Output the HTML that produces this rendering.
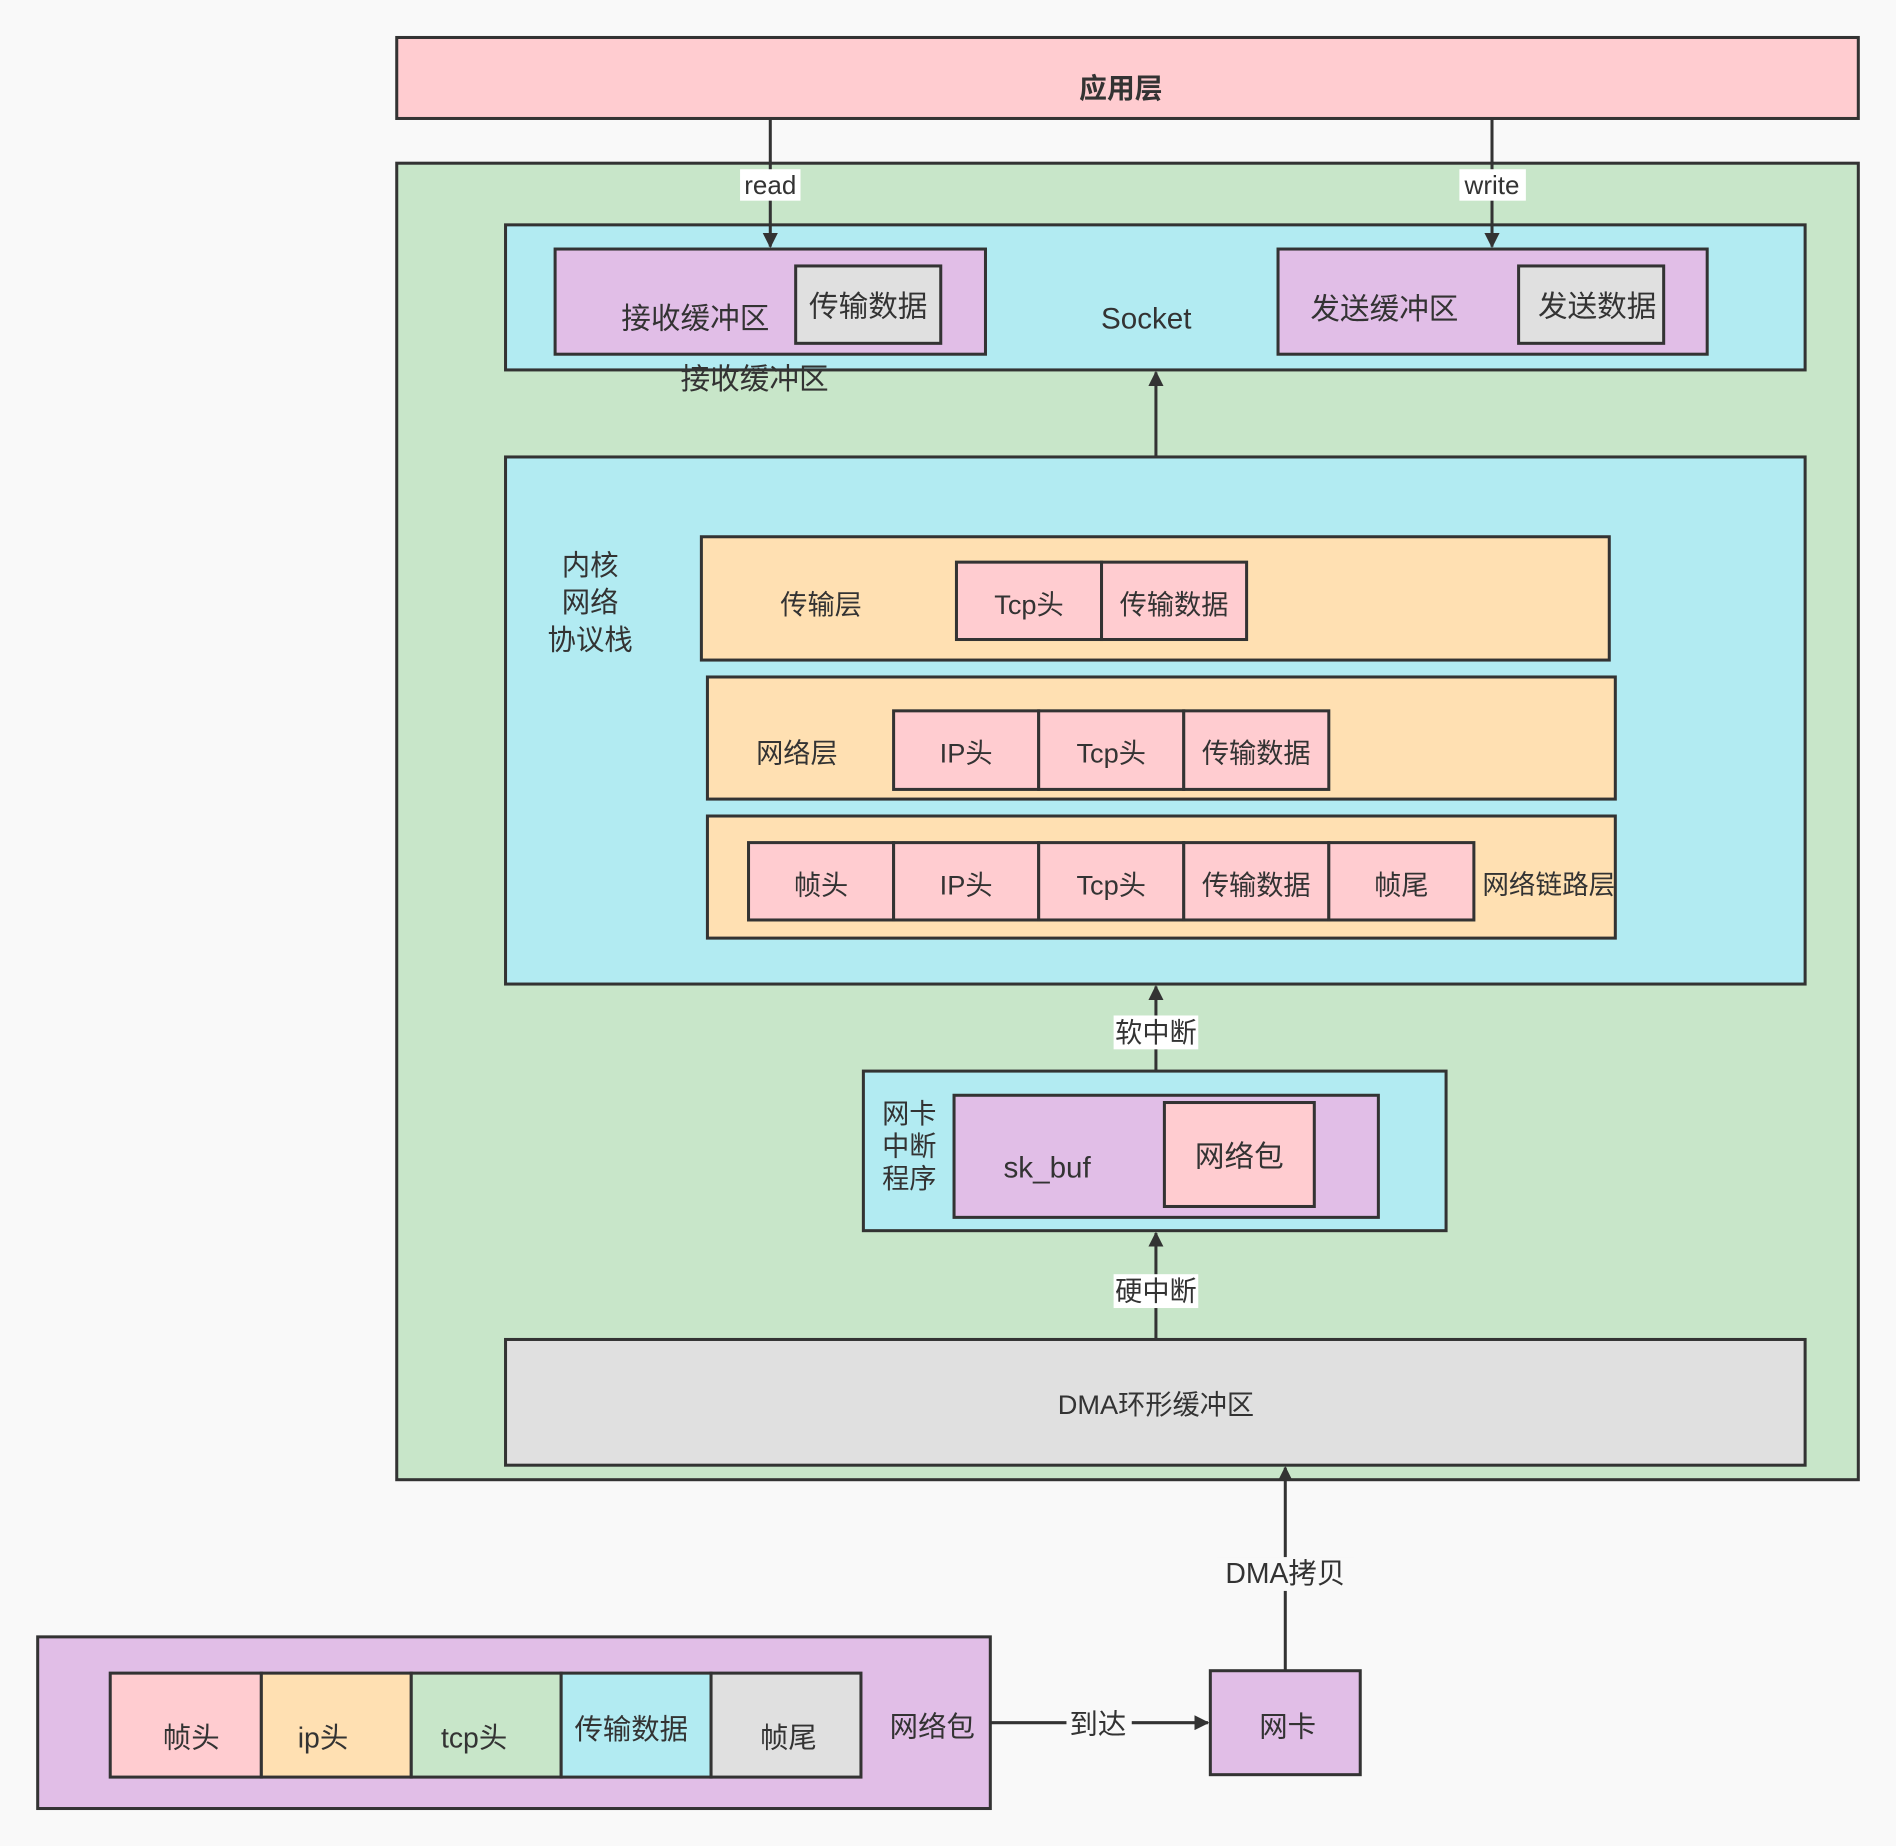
<!DOCTYPE html>
<html><head><meta charset="utf-8"><style>
html,body{margin:0;padding:0;background:#f9f9f9}
svg{display:block}
text{font-family:"Liberation Sans","Noto Sans CJK SC",sans-serif;fill:#333;text-anchor:middle;dominant-baseline:central}
rect{stroke:#333;stroke-width:2.5}
.l{stroke:#333;stroke-width:2.5;fill:none}
</style></head><body>
<svg width="1896" height="1846" viewBox="0 0 1568 1527" xmlns="http://www.w3.org/2000/svg">
<defs><marker id="a" viewBox="0 0 10 10" refX="9" refY="5" markerWidth="5" markerHeight="5" orient="auto"><path d="M0,0L10,5L0,10z" fill="#333"/></marker></defs>
<rect x="0" y="0" width="1568" height="1527" fill="#f9f9f9" style="stroke:none"/>
<rect x="328" y="31" width="1209" height="67" fill="#ffccd0"/>
<text x="927" y="73" font-size="23" font-weight="bold">应用层</text>
<rect x="328" y="135" width="1209" height="1089" fill="#c8e6c9"/>
<rect x="418" y="186" width="1075" height="120" fill="#b2ebf2"/>
<text x="948" y="264" font-size="24.5">Socket</text>
<rect x="459" y="206" width="356" height="87" fill="#e1bee7"/>
<text x="575" y="264" font-size="24.5">接收缓冲区</text>
<rect x="658" y="220" width="120" height="64" fill="#e0e0e0"/>
<text x="718" y="254" font-size="24.5">传输数据</text>
<rect x="1057" y="206" width="355" height="87" fill="#e1bee7"/>
<text x="1145" y="256" font-size="24.5">发送缓冲区</text>
<rect x="1256" y="220" width="120" height="64" fill="#e0e0e0"/>
<text x="1321" y="254" font-size="24.5">发送数据</text>
<text x="624" y="314" font-size="24.5">接收缓冲区</text>
<path class="l" d="M637,98V204" marker-end="url(#a)"/>
<rect x="612" y="140" width="50" height="26" fill="#fff" style="stroke:none"/>
<text x="637" y="153" font-size="21.5">read</text>
<path class="l" d="M1234,98V204" marker-end="url(#a)"/>
<rect x="1207" y="140" width="55" height="26" fill="#fff" style="stroke:none"/>
<text x="1234" y="153" font-size="21.5">write</text>
<path class="l" d="M956,378V308" marker-end="url(#a)"/>
<rect x="418" y="378" width="1075" height="436" fill="#b2ebf2"/>
<text x="488" y="468" font-size="23.5">内核</text>
<text x="488" y="499" font-size="23.5">网络</text>
<text x="488" y="530" font-size="23.5">协议栈</text>
<rect x="580" y="444" width="751" height="102" fill="#ffe0b2"/>
<text x="679" y="500" font-size="22.5">传输层</text>
<rect x="791" y="465" width="120" height="64" fill="#ffccd0"/><text x="851" y="500" font-size="22.5">Tcp头</text>
<rect x="911" y="465" width="120" height="64" fill="#ffccd0"/><text x="971" y="500" font-size="22.5">传输数据</text>
<rect x="585" y="560" width="751" height="101" fill="#ffe0b2"/>
<text x="659" y="623" font-size="22.5">网络层</text>
<rect x="739" y="588" width="120" height="65" fill="#ffccd0"/><text x="799" y="623" font-size="22.5">IP头</text>
<rect x="859" y="588" width="120" height="65" fill="#ffccd0"/><text x="919" y="623" font-size="22.5">Tcp头</text>
<rect x="979" y="588" width="120" height="65" fill="#ffccd0"/><text x="1039" y="623" font-size="22.5">传输数据</text>
<rect x="585" y="675" width="751" height="101" fill="#ffe0b2"/>
<rect x="619" y="697" width="120" height="64" fill="#ffccd0"/><text x="679" y="732" font-size="22.5">帧头</text>
<rect x="739" y="697" width="120" height="64" fill="#ffccd0"/><text x="799" y="732" font-size="22.5">IP头</text>
<rect x="859" y="697" width="120" height="64" fill="#ffccd0"/><text x="919" y="732" font-size="22.5">Tcp头</text>
<rect x="979" y="697" width="120" height="64" fill="#ffccd0"/><text x="1039" y="732" font-size="22.5">传输数据</text>
<rect x="1099" y="697" width="120" height="64" fill="#ffccd0"/><text x="1159" y="732" font-size="22.5">帧尾</text>
<text x="1281" y="732" font-size="22">网络链路层</text>
<path class="l" d="M956,886V816" marker-end="url(#a)"/>
<rect x="921" y="840" width="70" height="28" fill="#fff" style="stroke:none"/>
<text x="956" y="854" font-size="22.5">软中断</text>
<rect x="714" y="886" width="482" height="132" fill="#b2ebf2"/>
<text x="752" y="921" font-size="22.5">网卡</text>
<text x="752" y="948" font-size="22.5">中断</text>
<text x="752" y="975" font-size="22.5">程序</text>
<rect x="789" y="906" width="351" height="101" fill="#e1bee7"/>
<text x="866" y="966" font-size="24.5">sk_buf</text>
<rect x="963" y="912" width="124" height="86" fill="#ffccd0"/>
<text x="1025" y="957" font-size="24.5">网络包</text>
<path class="l" d="M956,1108V1020" marker-end="url(#a)"/>
<rect x="921" y="1054" width="70" height="28" fill="#fff" style="stroke:none"/>
<text x="956" y="1068" font-size="22.5">硬中断</text>
<rect x="418" y="1108" width="1075" height="104" fill="#e0e0e0"/>
<text x="956" y="1162" font-size="22.5">DMA环形缓冲区</text>
<path class="l" d="M1063,1382V1214" marker-end="url(#a)"/>
<rect x="1006" y="1288" width="114" height="28" fill="#f9f9f9" style="stroke:none"/>
<text x="1063" y="1302" font-size="23.5">DMA拷贝</text>
<rect x="1001" y="1382" width="124" height="86" fill="#e1bee7"/>
<text x="1065" y="1429" font-size="23.5">网卡</text>
<rect x="31" y="1354" width="788" height="142" fill="#e1bee7"/>
<rect x="91" y="1384" width="125" height="86" fill="#ffccd0"/><text x="158" y="1438" font-size="23.5">帧头</text>
<rect x="216" y="1384" width="124" height="86" fill="#ffe0b2"/><text x="267" y="1438" font-size="23.5">ip头</text>
<rect x="340" y="1384" width="124" height="86" fill="#c8e6c9"/><text x="392" y="1438" font-size="23.5">tcp头</text>
<rect x="464" y="1384" width="124" height="86" fill="#b2ebf2"/><text x="522" y="1431" font-size="23.5">传输数据</text>
<rect x="588" y="1384" width="124" height="86" fill="#e0e0e0"/><text x="652" y="1438" font-size="23.5">帧尾</text>
<text x="771" y="1429" font-size="23.5">网络包</text>
<path class="l" d="M819,1425H999" marker-end="url(#a)"/>
<rect x="882" y="1413" width="54" height="28" fill="#f9f9f9" style="stroke:none"/>
<text x="908" y="1427" font-size="23.5">到达</text>
</svg>
</body></html>
